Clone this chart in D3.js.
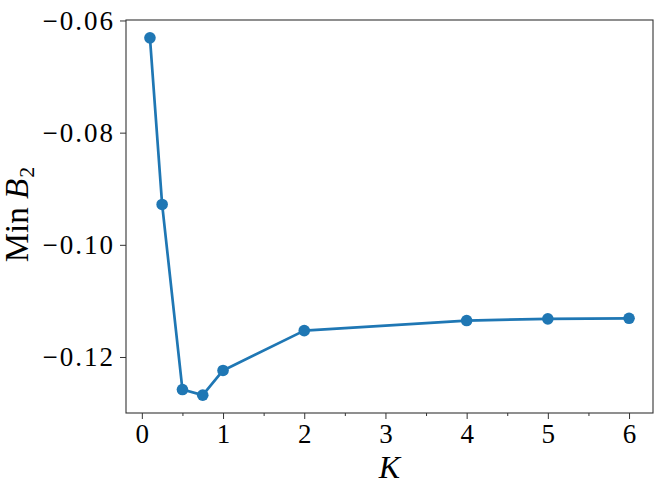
<!DOCTYPE html>
<html>
<head>
<meta charset="utf-8">
<script src="https://cdn.jsdelivr.net/npm/d3@7"></script>
<style>
body { margin: 0; background: #fff; }
text { font-family: "Liberation Serif", "DejaVu Serif", serif; fill: #000; }
</style>
</head>
<body>
<script>
// data
var kValues = [0.1, 0.25, 0.5, 0.75, 1, 2, 4, 5, 6];
var minB2 = [-0.0631, -0.0928, -0.1258, -0.1268, -0.1224, -0.1153, -0.1135, -0.1132, -0.1131];
var xTicks = [0, 1, 2, 3, 4, 5, 6];
var xMinorTicks = [0.5, 1.5, 2.5, 3.5, 4.5, 5.5];
var yTicks = [-0.06, -0.08, -0.10, -0.12];

var W = 664, H = 495;
var margin = {top: 20, right: 11, bottom: 82, left: 126}
, width = W - margin.left - margin.right
, height = H - margin.top - margin.bottom;

// matplotlib style 5% padding around the data
var xPad = (d3.max(kValues) - d3.min(kValues)) * 0.05;
var yPad = (d3.max(minB2) - d3.min(minB2)) * 0.05;

var x = d3.scaleLinear()
.domain([d3.min(kValues) - xPad, d3.max(kValues) + xPad])
.range([0, width]);

var y = d3.scaleLinear()
.domain([d3.min(minB2) - yPad, d3.max(minB2) + yPad])
.range([height, 0]);

var svg = d3.select('body').append('svg')
.attr('width', W)
.attr('height', H);

var main = svg.append('g')
.attr('transform', 'translate(' + margin.left + ',' + margin.top + ')');

// axes
var xAxis = d3.axisBottom(x).tickValues(xTicks).tickSize(6).tickPadding(5)
.tickFormat(d3.format('d'));
var xAxisG = main.append('g').attr('transform', 'translate(0,' + height + ')').call(xAxis);

main.append('g').attr('transform', 'translate(0,' + height + ')')
.call(d3.axisBottom(x).tickValues(xMinorTicks).tickSize(3).tickFormat(''))
.call(function(g) { g.select('.domain').remove(); });

var fmtY = function(d) { return '\u2212' + d3.format('.2f')(Math.abs(d)); };
var yAxisG = main.append('g')
.call(d3.axisLeft(y).tickValues(yTicks).tickSize(6).tickPadding(5).tickFormat(fmtY));

[xAxisG, yAxisG].forEach(function(g) {
  g.select('.domain').remove();
  g.selectAll('text').style('font-size', '27px').attr('fill', '#000');
});
yAxisG.selectAll('text').style('letter-spacing', '2px');
main.selectAll('.tick line').attr('stroke', '#333').attr('stroke-width', 1);

// frame
main.append('rect')
.attr('width', width).attr('height', height)
.attr('fill', 'none').attr('stroke', '#333').attr('stroke-width', 1.1);

// line and points
var line = d3.line()
.x(function(d, i) { return x(kValues[i]); })
.y(function(d) { return y(d); });

main.append('path')
.datum(minB2)
.attr('d', line)
.attr('fill', 'none')
.attr('stroke', '#1f77b4')
.attr('stroke-width', 2.7)
.attr('stroke-linejoin', 'round');

main.selectAll('circle.pt')
.data(minB2)
.enter().append('circle')
.attr('class', 'pt')
.attr('cx', function(d, i) { return x(kValues[i]); })
.attr('cy', function(d) { return y(d); })
.attr('r', 5.8)
.attr('fill', '#1f77b4');

// axis labels
svg.append('text')
.attr('x', margin.left + width / 2)
.attr('y', 478)
.style('text-anchor', 'middle')
.style('font-size', '32px')
.style('font-style', 'italic')
.text('K');

var yl = svg.append('text')
.attr('transform', 'translate(28,' + (margin.top + height / 2 - 2) + ') rotate(-90)')
.style('text-anchor', 'middle')
.style('font-size', '33px');
yl.append('tspan').text('Min ');
yl.append('tspan').style('font-style', 'italic').text('B');
yl.append('tspan').attr('dy', 6).attr('dx', 1).style('font-size', '22px').text('2');
</script>
</body>
</html>
